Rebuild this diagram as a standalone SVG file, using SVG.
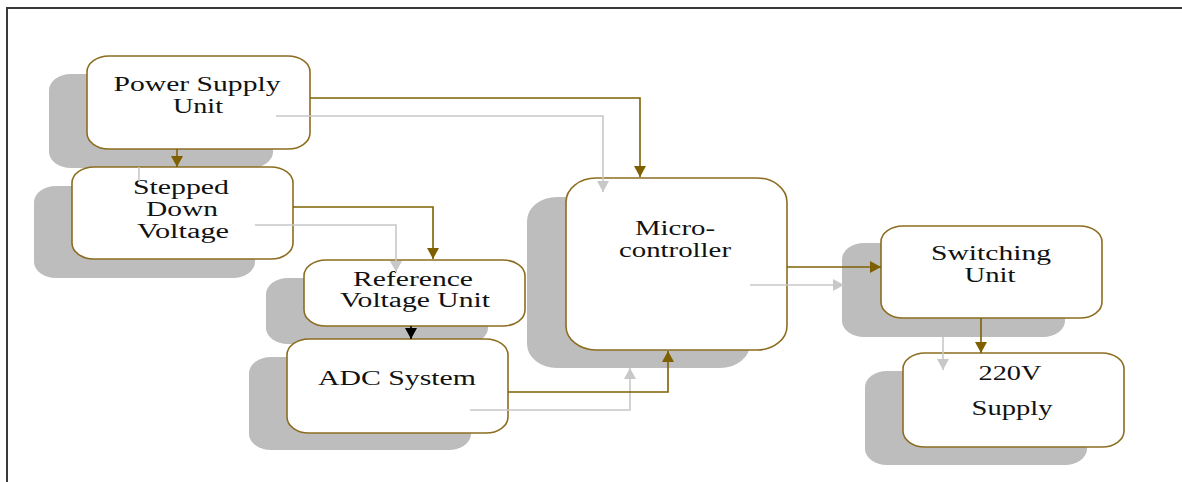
<svg xmlns="http://www.w3.org/2000/svg" width="1182" height="482" viewBox="0 0 1182 482">
<style>
.bg{fill:#ffffff}
.frame{stroke:#3a3a3a;stroke-width:2;fill:none}
.shadow{fill:#bdbdbd}
.box{fill:#ffffff;stroke:#8c6d1f;stroke-width:1.6}
.lbl{font-family:"Liberation Serif","Times New Roman",serif;font-size:20px;fill:#111;text-anchor:middle}
.br{stroke:#7f6000;stroke-width:1.6;fill:none}
.gr{stroke:#c8c8c8;stroke-width:1.6;fill:none}
.bk{stroke:#000;stroke-width:1.6;fill:none}
</style>
<defs>
<marker id="ab" markerUnits="userSpaceOnUse" markerWidth="12" markerHeight="12" viewBox="0 0 12 12" refX="11" refY="6" orient="auto"><path d="M0,0 L11,6 L0,12 Z" fill="#7f6000"/></marker>
<marker id="ag" markerUnits="userSpaceOnUse" markerWidth="12" markerHeight="12" viewBox="0 0 12 12" refX="11" refY="6" orient="auto"><path d="M0,0 L11,6 L0,12 Z" fill="#c8c8c8"/></marker>
<marker id="ak" markerUnits="userSpaceOnUse" markerWidth="12" markerHeight="12" viewBox="0 0 12 12" refX="11" refY="6" orient="auto"><path d="M0,0 L11,6 L0,12 Z" fill="#000"/></marker>
</defs>
<rect class="bg" x="0" y="0" width="1182" height="482"/>
<path class="frame" d="M7,482 L7,8 L1182,8"/>

<g id="power-supply">
<rect class="shadow" x="49" y="74" width="224" height="94" rx="22" ry="16"/>
<rect class="box" x="87" y="56" width="223" height="93" rx="22" ry="16"/>
<text class="lbl" x="197" y="91" textLength="167" lengthAdjust="spacingAndGlyphs">Power Supply</text>
<text class="lbl" x="198" y="113" textLength="50" lengthAdjust="spacingAndGlyphs">Unit</text>
</g>

<g id="stepped-down">
<rect class="shadow" x="34" y="186" width="221" height="92" rx="22" ry="16"/>
<rect class="box" x="72" y="167" width="221" height="92" rx="22" ry="16"/>
<text class="lbl" x="181" y="194" textLength="96" lengthAdjust="spacingAndGlyphs">Stepped</text>
<text class="lbl" x="182" y="216" textLength="72" lengthAdjust="spacingAndGlyphs">Down</text>
<text class="lbl" x="183" y="238" textLength="92" lengthAdjust="spacingAndGlyphs">Voltage</text>
</g>

<g id="reference-voltage">
<rect class="shadow" x="266" y="278" width="222" height="66" rx="22" ry="16"/>
<rect class="box" x="304" y="260" width="221" height="66" rx="22" ry="16"/>
<text class="lbl" x="413" y="286" textLength="120" lengthAdjust="spacingAndGlyphs">Reference</text>
<text class="lbl" x="415" y="307" textLength="150" lengthAdjust="spacingAndGlyphs">Voltage Unit</text>
</g>

<g id="adc-system">
<rect class="shadow" x="249" y="357" width="222" height="93" rx="22" ry="16"/>
<rect class="box" x="287" y="339" width="221" height="94" rx="22" ry="16"/>
<text class="lbl" x="397" y="385" textLength="158" lengthAdjust="spacingAndGlyphs">ADC System</text>
</g>

<g id="microcontroller">
<rect class="shadow" x="527" y="197" width="223" height="171" rx="30" ry="24"/>
<rect class="box" x="566" y="178" width="221" height="172" rx="30" ry="24"/>
<text class="lbl" x="675" y="235" textLength="80" lengthAdjust="spacingAndGlyphs">Micro-</text>
<text class="lbl" x="675" y="257" textLength="112" lengthAdjust="spacingAndGlyphs">controller</text>
</g>

<g id="switching-unit">
<rect class="shadow" x="842" y="243" width="223" height="94" rx="22" ry="16"/>
<rect class="box" x="881" y="226" width="221" height="92" rx="22" ry="16"/>
<text class="lbl" x="991" y="260" textLength="120" lengthAdjust="spacingAndGlyphs">Switching</text>
<text class="lbl" x="990" y="282" textLength="51" lengthAdjust="spacingAndGlyphs">Unit</text>
</g>

<g id="supply-220v">
<rect class="shadow" x="865" y="371" width="222" height="94" rx="22" ry="16"/>
<rect class="box" x="903" y="353" width="221" height="94" rx="22" ry="16"/>
<text class="lbl" x="1010" y="380" textLength="63" lengthAdjust="spacingAndGlyphs">220V</text>
<text class="lbl" x="1012" y="415" textLength="81" lengthAdjust="spacingAndGlyphs">Supply</text>
</g>

<g id="connectors">
<path class="gr" d="M139,167 L139,181"/>
<path class="gr" d="M276,116 L603,116 L603,192" marker-end="url(#ag)"/>
<path class="gr" d="M255,225 L396,225 L396,272" marker-end="url(#ag)"/>
<path class="gr" d="M470,410 L630,410 L630,368" marker-end="url(#ag)"/>
<path class="gr" d="M750,285 L844,285" marker-end="url(#ag)"/>
<path class="gr" d="M943,337 L943,370" marker-end="url(#ag)"/>

<path class="br" d="M177,149 L177,167" marker-end="url(#ab)"/>
<path class="br" d="M310,98 L640,98 L640,177" marker-end="url(#ab)"/>
<path class="br" d="M293,207 L433,207 L433,259" marker-end="url(#ab)"/>
<path class="bk" d="M411,326 L411,339" marker-end="url(#ak)"/>
<path class="br" d="M508,392 L668,392 L668,351" marker-end="url(#ab)"/>
<path class="br" d="M787,267 L881,267" marker-end="url(#ab)"/>
<path class="br" d="M981,318 L981,353" marker-end="url(#ab)"/>
</g>
</svg>
